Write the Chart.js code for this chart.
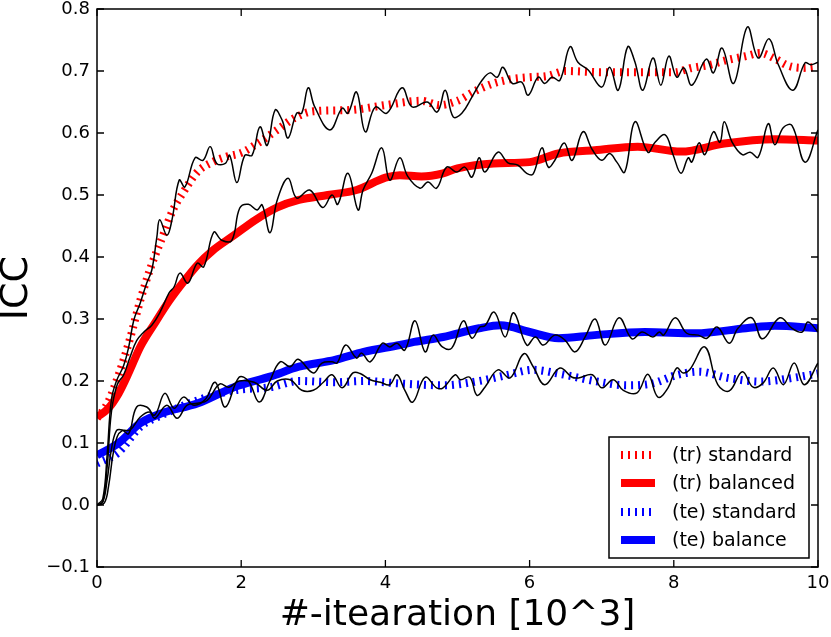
<!DOCTYPE html>
<html><head><meta charset="utf-8">
<script src="https://cdn.jsdelivr.net/npm/chart.js@4.4.1/dist/chart.umd.min.js"></script>
<style>html,body{margin:0;padding:0;background:#fff;}#wrap{width:831px;height:637px;}</style>
</head><body><div id="wrap"><canvas id="c" width="831" height="637"></canvas></div>
<script>
// ---- data ----
const xTickValues = [0, 2, 4, 6, 8, 10];
const xTickLabels = ['0', '2', '4', '6', '8', '10'];
const yTickValues = [-0.1, 0.0, 0.1, 0.2, 0.3, 0.4, 0.5, 0.6, 0.7, 0.8];
const yTickLabels = ['\u22120.1', '0.0', '0.1', '0.2', '0.3', '0.4', '0.5', '0.6', '0.7', '0.8'];
const seriesLabels = ['(tr) standard', '(tr) balanced', '(te) standard', '(te) balance'];

// smoothed curves
const trStdX = [0,0.15,0.3,0.45,0.6,0.75,0.9,1.05,1.2,1.4,1.6,1.8,2.0,2.25,2.5,2.75,3.0,3.5,4.0,4.5,4.75,5.0,5.25,5.5,5.75,6.0,6.25,6.5,7.0,7.5,8.0,8.25,8.5,8.75,9.0,9.2,9.4,9.6,9.8,10];
const trStdY = [0.14,0.165,0.21,0.265,0.33,0.385,0.43,0.475,0.505,0.538,0.553,0.562,0.568,0.585,0.605,0.625,0.635,0.637,0.645,0.652,0.645,0.652,0.668,0.68,0.687,0.69,0.692,0.70,0.698,0.698,0.698,0.705,0.71,0.718,0.724,0.729,0.72,0.708,0.705,0.707];
const trBalX = [0,0.15,0.3,0.45,0.6,0.8,1.0,1.2,1.4,1.6,1.9,2.2,2.5,2.8,3.2,3.6,4.0,4.2,4.5,4.8,5.0,5.5,6.0,6.4,6.9,7.5,8.1,8.7,9.4,10];
const trBalY = [0.142,0.155,0.18,0.216,0.255,0.293,0.329,0.36,0.388,0.41,0.435,0.46,0.48,0.492,0.5,0.508,0.528,0.532,0.53,0.535,0.543,0.551,0.553,0.567,0.572,0.578,0.57,0.583,0.59,0.588];
const teStdX = [0,0.3,0.6,0.9,1.4,1.9,2.4,2.8,3.3,3.7,4.2,4.8,5.3,5.7,6.05,6.4,6.9,7.35,7.7,8.05,8.35,8.75,9.2,9.65,10];
const teStdY = [0.067,0.085,0.126,0.145,0.169,0.185,0.19,0.2,0.198,0.2,0.196,0.193,0.2,0.21,0.218,0.212,0.2,0.193,0.196,0.21,0.215,0.205,0.199,0.205,0.212];
const teBalX = [0,0.3,0.6,0.9,1.4,1.9,2.4,2.8,3.3,3.7,4.2,4.4,4.8,5.3,5.6,6.0,6.4,6.9,7.6,8.3,9.0,9.4,10];
const teBalY = [0.08,0.1,0.132,0.148,0.164,0.19,0.207,0.223,0.234,0.247,0.258,0.263,0.271,0.285,0.29,0.279,0.269,0.274,0.279,0.277,0.285,0.289,0.285];

// raw (noisy) curves
const trStdRawX = [0,0.08,0.14,0.2,0.27,0.37,0.44,0.51,0.6,0.69,0.76,0.83,0.87,0.97,1.04,1.14,1.22,1.36,1.47,1.57,1.66,1.78,1.84,1.94,2.05,2.15,2.26,2.36,2.47,2.57,2.65,2.77,2.84,2.93,3.02,3.23,3.4,3.48,3.6,3.72,3.86,4.02,4.23,4.37,4.58,4.72,4.83,4.94,5.06,5.2,5.34,5.45,5.55,5.63,5.76,5.89,5.98,6.12,6.21,6.31,6.42,6.56,6.67,6.81,7.0,7.11,7.23,7.36,7.46,7.57,7.71,7.82,7.93,8.04,8.14,8.25,8.45,8.55,8.67,8.83,9.02,9.17,9.32,9.45,9.65,9.82,9.9,10];
const trStdRawY = [0,0.01,0.08,0.17,0.2,0.225,0.255,0.298,0.326,0.358,0.379,0.432,0.46,0.435,0.46,0.524,0.513,0.56,0.556,0.578,0.551,0.551,0.564,0.52,0.564,0.564,0.61,0.58,0.637,0.62,0.592,0.632,0.632,0.673,0.642,0.605,0.64,0.632,0.666,0.602,0.642,0.632,0.673,0.642,0.65,0.634,0.669,0.626,0.632,0.658,0.685,0.697,0.69,0.706,0.68,0.682,0.661,0.69,0.68,0.69,0.685,0.739,0.714,0.702,0.674,0.706,0.669,0.739,0.715,0.669,0.721,0.677,0.724,0.69,0.705,0.677,0.719,0.697,0.737,0.68,0.771,0.721,0.752,0.71,0.669,0.713,0.71,0.714];
const trBalRawX = [0,0.08,0.14,0.2,0.28,0.37,0.46,0.55,0.65,0.76,0.87,1.0,1.07,1.15,1.26,1.39,1.48,1.62,1.73,1.87,1.98,2.1,2.22,2.29,2.4,2.5,2.65,2.77,2.95,3.13,3.26,3.34,3.48,3.62,3.69,3.81,3.95,4.06,4.2,4.31,4.48,4.59,4.71,4.85,4.99,5.1,5.2,5.3,5.38,5.56,5.7,5.84,5.96,6.05,6.17,6.26,6.35,6.48,6.59,6.74,6.87,7.0,7.11,7.21,7.32,7.46,7.64,7.74,7.88,7.99,8.1,8.2,8.25,8.35,8.43,8.55,8.64,8.7,8.81,8.95,9.06,9.17,9.31,9.4,9.52,9.64,9.82,10];
const trBalRawY = [0,0.005,0.06,0.15,0.194,0.21,0.239,0.265,0.279,0.29,0.31,0.342,0.352,0.374,0.358,0.39,0.384,0.44,0.427,0.427,0.479,0.485,0.476,0.484,0.439,0.492,0.527,0.495,0.508,0.48,0.5,0.485,0.535,0.476,0.508,0.535,0.576,0.524,0.56,0.53,0.511,0.521,0.511,0.545,0.537,0.545,0.529,0.56,0.537,0.569,0.552,0.548,0.535,0.534,0.576,0.545,0.556,0.584,0.556,0.602,0.573,0.556,0.567,0.553,0.537,0.618,0.569,0.585,0.597,0.565,0.535,0.56,0.553,0.584,0.565,0.602,0.585,0.618,0.585,0.565,0.569,0.561,0.615,0.581,0.609,0.612,0.553,0.605];
const teStdRawX = [0,0.1,0.16,0.22,0.28,0.35,0.46,0.6,0.73,0.8,0.97,1.11,1.25,1.39,1.53,1.7,1.83,1.97,2.18,2.36,2.5,2.68,2.84,3.0,3.14,3.26,3.4,3.55,3.65,3.79,3.93,4.06,4.16,4.27,4.38,4.55,4.71,4.8,4.97,5.04,5.17,5.27,5.38,5.56,5.73,5.92,6.05,6.21,6.42,6.59,6.68,6.87,7.0,7.16,7.3,7.49,7.64,7.78,7.92,8.04,8.13,8.22,8.43,8.61,8.77,8.95,9.1,9.24,9.38,9.52,9.67,9.81,10];
const teStdRawY = [0,0.003,0.03,0.08,0.11,0.12,0.121,0.142,0.15,0.14,0.161,0.14,0.161,0.164,0.169,0.195,0.19,0.2,0.198,0.185,0.2,0.202,0.185,0.185,0.198,0.21,0.189,0.213,0.212,0.202,0.198,0.194,0.21,0.185,0.166,0.206,0.189,0.189,0.21,0.202,0.206,0.177,0.19,0.218,0.205,0.244,0.223,0.194,0.221,0.206,0.205,0.21,0.189,0.202,0.185,0.181,0.211,0.174,0.189,0.221,0.213,0.218,0.255,0.194,0.184,0.215,0.19,0.197,0.221,0.194,0.229,0.194,0.229];
const teBalRawX = [0,0.08,0.14,0.2,0.27,0.35,0.44,0.55,0.69,0.8,0.94,1.07,1.2,1.34,1.5,1.64,1.78,1.97,2.1,2.25,2.39,2.54,2.68,2.79,3.0,3.12,3.26,3.33,3.45,3.6,3.67,3.79,3.96,4.06,4.16,4.27,4.41,4.55,4.66,4.79,4.92,5.08,5.2,5.31,5.38,5.51,5.66,5.78,5.96,6.08,6.19,6.35,6.49,6.63,6.77,6.91,7.05,7.24,7.42,7.56,7.71,7.8,7.86,8.02,8.18,8.34,8.46,8.6,8.77,8.89,9.08,9.23,9.47,9.64,9.78,9.86,10];
const teBalRawY = [0,0.005,0.04,0.09,0.12,0.121,0.115,0.158,0.158,0.145,0.18,0.156,0.174,0.161,0.17,0.198,0.158,0.206,0.2,0.166,0.198,0.231,0.223,0.235,0.213,0.229,0.231,0.229,0.258,0.237,0.245,0.231,0.261,0.255,0.261,0.25,0.297,0.247,0.274,0.255,0.253,0.297,0.269,0.287,0.289,0.311,0.271,0.31,0.258,0.271,0.258,0.274,0.266,0.247,0.271,0.3,0.258,0.302,0.268,0.279,0.271,0.279,0.274,0.302,0.277,0.274,0.269,0.287,0.261,0.285,0.302,0.268,0.302,0.285,0.279,0.295,0.279];

// ---- build ----
const pts = (xs, ys) => xs.map((x, i) => ({x: x, y: ys[i]}));
const FONT = "'DejaVu Sans', 'Liberation Sans', sans-serif";

function rawSet(xs, ys) {
  return {label: '', data: pts(xs, ys), borderColor: '#000', borderWidth: 1.5, pointRadius: 0, tension: 0.4, clip: 0, fill: false};
}
function smoothSet(label, xs, ys, color, dashed) {
  return {label: label, data: pts(xs, ys), borderColor: color, borderWidth: 8, borderDash: dashed ? [2, 5] : [], pointRadius: 0, cubicInterpolationMode: 'monotone', clip: 0, fill: false, borderCapStyle: 'butt'};
}

const datasets = [
  rawSet(trStdRawX, trStdRawY),
  rawSet(trBalRawX, trBalRawY),
  rawSet(teStdRawX, teStdRawY),
  rawSet(teBalRawX, teBalRawY),
  smoothSet(seriesLabels[0], trStdX, trStdY, '#ff0000', true),
  smoothSet(seriesLabels[1], trBalX, trBalY, '#ff0000', false),
  smoothSet(seriesLabels[2], teStdX, teStdY, '#0000ff', true),
  smoothSet(seriesLabels[3], teBalX, teBalY, '#0000ff', false)
];

const framePlugin = {
  id: 'frame',
  afterDraw(chart) {
    const {ctx, chartArea: a, scales} = chart;
    ctx.save();
    ctx.strokeStyle = '#000';
    ctx.lineWidth = 1.3;
    const L = 7;
    ctx.beginPath();
    xTickValues.forEach(v => {
      const px = scales.x.getPixelForValue(v);
      ctx.moveTo(px, a.bottom); ctx.lineTo(px, a.bottom - L);
      ctx.moveTo(px, a.top); ctx.lineTo(px, a.top + L);
    });
    yTickValues.forEach(v => {
      const py = scales.y.getPixelForValue(v);
      ctx.moveTo(a.left, py); ctx.lineTo(a.left + L, py);
      ctx.moveTo(a.right, py); ctx.lineTo(a.right - L, py);
    });
    ctx.stroke();
    ctx.lineWidth = 1.5;
    ctx.strokeRect(a.left, a.top, a.right - a.left, a.bottom - a.top);

    // legend box (inside plot, lower right)
    const bx = 609, by = 437, bw = 200, bh = 121;
    ctx.fillStyle = '#fff';
    ctx.fillRect(bx, by, bw, bh);
    ctx.lineWidth = 1.5;
    ctx.strokeRect(bx, by, bw, bh);
    const rowY = [455, 483, 512, 540];
    ctx.font = '19px ' + FONT;
    ctx.textBaseline = 'middle';
    ctx.textAlign = 'left';
    for (let i = 0; i < 4; i++) {
      const ds = chart.data.datasets[4 + i];
      ctx.save();
      ctx.strokeStyle = ds.borderColor;
      ctx.lineWidth = ds.borderWidth;
      ctx.setLineDash(ds.borderDash);
      ctx.lineCap = 'butt';
      ctx.beginPath();
      ctx.moveTo(621, rowY[i]); ctx.lineTo(655, rowY[i]);
      ctx.stroke();
      ctx.restore();
      ctx.fillStyle = '#000';
      ctx.fillText(ds.label, 672, rowY[i] + 1);
    }
    ctx.restore();
  }
};

new Chart(document.getElementById('c'), {
  type: 'line',
  data: {datasets: datasets},
  options: {
    responsive: false,
    animation: false,
    devicePixelRatio: 1,
    layout: {padding: {top: 9, right: 13, left: 0, bottom: 0}},
    plugins: {legend: {display: false}, tooltip: {enabled: false}},
    scales: {
      x: {
        type: 'linear', min: 0, max: 10,
        afterBuildTicks: s => { s.ticks = xTickValues.map(v => ({value: v})); },
        afterFit: s => { s.height = 70; s.paddingLeft = 0; s.paddingRight = 0; },
        grid: {display: false, drawTicks: false},
        border: {display: false},
        ticks: {color: '#000', font: {family: FONT, size: 18}, padding: 6, maxRotation: 0,
                callback: (v, i) => xTickLabels[i]},
        title: {display: true, text: '#-itearation [10^3]', color: '#000',
                font: {family: FONT, size: 36, lineHeight: 1}, padding: {top: 0, bottom: 3}}
      },
      y: {
        type: 'linear', min: -0.1, max: 0.8,
        afterBuildTicks: s => { s.ticks = yTickValues.map(v => ({value: v})); },
        afterFit: s => { s.width = 97; s.paddingTop = 0; s.paddingBottom = 0; },
        grid: {display: false, drawTicks: false},
        border: {display: false},
        ticks: {color: '#000', font: {family: FONT, size: 18}, padding: 7,
                callback: (v, i) => yTickLabels[i]},
        title: {display: true, text: 'ICC', color: '#000',
                font: {family: FONT, size: 38, lineHeight: 1}, padding: {top: -2, bottom: 0}}
      }
    }
  },
  plugins: [framePlugin]
});
</script></body></html>
